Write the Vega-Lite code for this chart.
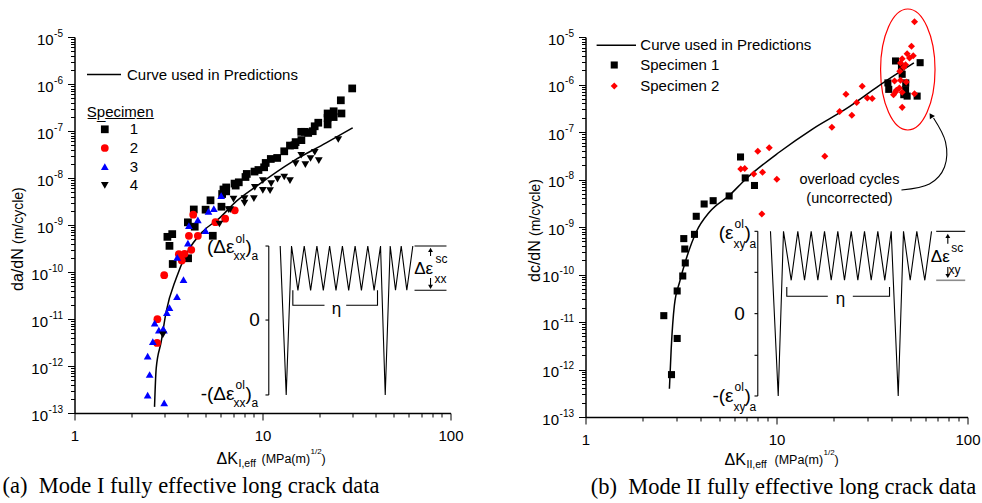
{
"$schema":"https://vega.github.io/schema/vega-lite/v6.json",
"background":"white",
"padding":{"left":2.5,"top":6,"right":0,"bottom":0},
"spacing":135,
"bounds":"flush",
"config":{
 "view":{"stroke":null},
 "axis":{"labelFont":"Liberation Sans","labelFontSize":15,"labelColor":"black","domainColor":"black","domainWidth":1.5,"tickColor":"black","tickWidth":1,"grid":false,"labelFlush":false,"labelOverlap":false},
 "legend":{"labelFont":"Liberation Sans","labelFontSize":15,"labelColor":"black","titleFont":"Liberation Sans","titleFontSize":15,"titleFontWeight":"normal","titleColor":"black","padding":0,"labelLimit":400},
 "text":{"font":"Liberation Sans","color":"black"}
},
"datasets":{
 "lPts":[
  {"s":"1","K":30.0,"r":8.05e-7},{"s":"1","K":26.1,"r":4.5e-7},{"s":"1","K":23.9,"r":2.63e-7},{"s":"1","K":22.2,"r":2.36e-7},{"s":"1","K":26.3,"r":2.36e-7},{"s":"1","K":23.9,"r":1.98e-7},{"s":"1","K":22.2,"r":1.9e-7},{"s":"1","K":22.2,"r":1.38e-7},{"s":"1","K":19.8,"r":1.5e-7},{"s":"1","K":18.95,"r":1.26e-7},{"s":"1","K":18.5,"r":9.9e-8},{"s":"1","K":17.5,"r":9.1e-8},{"s":"1","K":16.8,"r":9.6e-8},{"s":"1","K":16.07,"r":9.6e-8},{"s":"1","K":16.1,"r":6.4e-8},{"s":"1","K":15.0,"r":5.8e-8},{"s":"1","K":14.8,"r":4.98e-8},{"s":"1","K":14.0,"r":4.9e-8},{"s":"1","K":13.05,"r":3.7e-8},{"s":"1","K":11.97,"r":2.67e-8},{"s":"1","K":11.07,"r":2.54e-8},{"s":"1","K":10.4,"r":2.09e-8},{"s":"1","K":10.2,"r":1.69e-8},{"s":"1","K":9.52,"r":1.48e-8},{"s":"1","K":9.07,"r":1.37e-8},{"s":"1","K":8.25,"r":1.22e-8},{"s":"1","K":8.12,"r":1.05e-8},{"s":"1","K":7.48,"r":8.1e-9},{"s":"1","K":7.1,"r":7.6e-9},{"s":"1","K":7.2,"r":6.9e-9},{"s":"1","K":6.41,"r":6.3e-9},{"s":"1","K":6.2,"r":5.7e-9},{"s":"1","K":6.41,"r":5.2e-9},{"s":"1","K":6.1,"r":4.56e-9},{"s":"1","K":5.29,"r":3.35e-9},{"s":"1","K":6.05,"r":2.45e-9},{"s":"1","K":4.98,"r":2.12e-9},{"s":"1","K":4.31,"r":2.14e-9},{"s":"1","K":4.01,"r":1.14e-9},{"s":"1","K":4.36,"r":9.2e-10},{"s":"1","K":3.12,"r":5.6e-10},{"s":"1","K":3.31,"r":6.4e-10},{"s":"1","K":3.2,"r":3.6e-10},{"s":"1","K":5.44,"r":5.9e-10},{"s":"1","K":3.33,"r":1.48e-10},{"s":"1","K":4.02,"r":1.96e-10},
  {"s":"2","K":7.12,"r":2.05e-9},{"s":"2","K":6.33,"r":1.36e-9},{"s":"2","K":5.62,"r":1.15e-9},{"s":"2","K":4.28,"r":1.66e-9},{"s":"2","K":4.06,"r":5.9e-10},{"s":"2","K":4.53,"r":5.9e-10},{"s":"2","K":3.59,"r":2.4e-10},{"s":"2","K":3.85,"r":2.44e-10},{"s":"2","K":4.18,"r":2.97e-10},{"s":"2","K":3.72,"r":1.76e-10},{"s":"2","K":3.0,"r":8.55e-11},{"s":"2","K":2.76,"r":9.9e-12},{"s":"2","K":2.75,"r":3.1e-12},
  {"s":"3","K":6.03,"r":4.2e-9},{"s":"3","K":5.51,"r":2.23e-9},{"s":"3","K":5.16,"r":1.95e-9},{"s":"3","K":4.53,"r":1.29e-9},{"s":"3","K":4.06,"r":9.7e-10},{"s":"3","K":4.98,"r":7.6e-10},{"s":"3","K":4.01,"r":4.1e-10},{"s":"3","K":3.52,"r":2.04e-10},{"s":"3","K":3.8,"r":6.9e-11},{"s":"3","K":3.51,"r":3.0e-11},{"s":"3","K":3.2,"r":1.75e-11},{"s":"3","K":3.1,"r":1.37e-11},{"s":"3","K":2.67,"r":8.2e-12},{"s":"3","K":2.96,"r":6.15e-12},{"s":"3","K":2.81,"r":5.8e-12},{"s":"3","K":2.99,"r":5.8e-12},{"s":"3","K":2.61,"r":3.3e-12},{"s":"3","K":2.45,"r":1.62e-12},{"s":"3","K":2.51,"r":6.6e-13},{"s":"3","K":2.45,"r":2.4e-13},{"s":"3","K":3.0,"r":1.65e-13},
  {"s":"4","K":25.3,"r":6.6e-8},{"s":"4","K":19.93,"r":2.35e-8},{"s":"4","K":18.97,"r":3.53e-8},{"s":"4","K":18.0,"r":2.6e-8},{"s":"4","K":16.9,"r":1.93e-8},{"s":"4","K":16.07,"r":3.05e-8},{"s":"4","K":15.0,"r":2.03e-8},{"s":"4","K":14.0,"r":8.8e-9},{"s":"4","K":13.05,"r":1.05e-8},{"s":"4","K":12.02,"r":9.5e-9},{"s":"4","K":11.12,"r":7.6e-9},{"s":"4","K":10.97,"r":5.4e-9},{"s":"4","K":10.04,"r":5.47e-9},{"s":"4","K":10.04,"r":8.8e-9},{"s":"4","K":9.1,"r":6.3e-9},{"s":"4","K":9.0,"r":3.65e-9},{"s":"4","K":8.02,"r":2.93e-9},{"s":"4","K":8.02,"r":3.65e-9},{"s":"4","K":7.01,"r":3.57e-9},{"s":"4","K":6.6,"r":2.12e-9},{"s":"4","K":6.73,"r":2.12e-9},{"s":"4","K":5.9,"r":1.05e-9},{"s":"4","K":2.95,"r":4.6e-12}
 ],
 "lCurve":[
  {"series":"Curve used in Predictions","K":2.665,"r":1.35e-13},{"series":"Curve used in Predictions","K":2.72,"r":8.9e-13},{"series":"Curve used in Predictions","K":2.892,"r":3.3e-12},{"series":"Curve used in Predictions","K":3.074,"r":1.44e-11},{"series":"Curve used in Predictions","K":3.475,"r":7.4e-11},{"series":"Curve used in Predictions","K":4.006,"r":2.74e-10},{"series":"Curve used in Predictions","K":4.814,"r":7.3e-10},{"series":"Curve used in Predictions","K":5.905,"r":1.4e-9},{"series":"Curve used in Predictions","K":7.245,"r":3.18e-9},{"series":"Curve used in Predictions","K":9.26,"r":6.65e-9},{"series":"Curve used in Predictions","K":14.5,"r":2.27e-8},{"series":"Curve used in Predictions","K":21.8,"r":5.57e-8},{"series":"Curve used in Predictions","K":30.2,"r":1.17e-7}
 ],
 "lLines":[
  {"seg":"w","i":0,"K":12.42,"r":3.57e-10},{"seg":"w","i":1,"K":13.37,"r":2.42e-13},{"seg":"w","i":2,"K":14.27,"r":3.57e-10},{"seg":"w","i":3,"K":15.43,"r":4.08e-11},{"seg":"w","i":4,"K":16.67,"r":3.57e-10},{"seg":"w","i":5,"K":18.03,"r":4.08e-11},{"seg":"w","i":6,"K":19.47,"r":3.57e-10},{"seg":"w","i":7,"K":21.06,"r":4.08e-11},{"seg":"w","i":8,"K":22.75,"r":3.57e-10},{"seg":"w","i":9,"K":24.6,"r":4.08e-11},{"seg":"w","i":10,"K":26.61,"r":3.57e-10},{"seg":"w","i":11,"K":28.74,"r":4.08e-11},{"seg":"w","i":12,"K":31.09,"r":3.57e-10},{"seg":"w","i":13,"K":33.59,"r":4.08e-11},{"seg":"w","i":14,"K":36.32,"r":3.57e-10},{"seg":"w","i":15,"K":39.23,"r":4.08e-11},{"seg":"w","i":16,"K":42.44,"r":3.57e-10},{"seg":"w","i":17,"K":44.96,"r":2.42e-13},{"seg":"w","i":18,"K":47.79,"r":3.57e-10},{"seg":"w","i":19,"K":50.99,"r":4.08e-11},{"seg":"w","i":20,"K":54.68,"r":3.57e-10},{"seg":"w","i":21,"K":58.56,"r":4.08e-11},{"seg":"w","i":22,"K":63.03,"r":3.57e-10},
  {"seg":"ax","i":0,"K":10.8,"r":3.57e-10},{"seg":"ax","i":1,"K":10.8,"r":2.42e-13},
  {"seg":"t1","i":0,"K":10.37,"r":3.57e-10},{"seg":"t1","i":1,"K":10.8,"r":3.57e-10},
  {"seg":"t2","i":0,"K":10.37,"r":9.5e-12},{"seg":"t2","i":1,"K":10.8,"r":9.5e-12},
  {"seg":"t3","i":0,"K":10.37,"r":2.42e-13},{"seg":"t3","i":1,"K":10.8,"r":2.42e-13},
  {"seg":"b1","i":0,"K":14.5,"r":4.08e-11},{"seg":"b1","i":1,"K":14.5,"r":1.955e-11},{"seg":"b1","i":2,"K":21.37,"r":1.955e-11},
  {"seg":"b2","i":0,"K":27.87,"r":1.955e-11},{"seg":"b2","i":1,"K":40.9,"r":1.955e-11},{"seg":"b2","i":2,"K":40.9,"r":4.08e-11},
  {"seg":"r1","i":0,"K":64.36,"r":3.57e-10},{"seg":"r1","i":1,"K":95.2,"r":3.57e-10},
  {"seg":"r2","i":0,"K":64.36,"r":4.08e-11},{"seg":"r2","i":1,"K":95.2,"r":4.08e-11},
  {"seg":"a1","i":0,"K":78.3,"r":2.19e-10},{"seg":"a1","i":1,"K":78.3,"r":2.94e-10},
  {"seg":"a2","i":0,"K":78.3,"r":7.45e-11},{"seg":"a2","i":1,"K":78.3,"r":4.8e-11}
 ],
 "lHeads":[{"dir":"up","K":78.3,"r":2.94e-10},{"dir":"down","K":78.3,"r":4.8e-11}],
 "lTxt":[
  {"t":"(Δε","K":7.098,"r":3.4e-10,"role":"big"},{"t":"-(Δε","K":7.098,"r":2.54e-13,"role":"big"},
  {"t":")","K":8.12,"r":3.4e-10,"role":"bigL"},{"t":")","K":8.12,"r":2.54e-13,"role":"bigL"},
  {"t":"0","K":9.07,"r":9.5e-12,"role":"zero"},
  {"t":"ol","K":7.185,"r":5.16e-10,"role":"sm"},{"t":"xx","K":7.012,"r":2.19e-10,"role":"sm"},{"t":"a","K":8.74,"r":2.19e-10,"role":"sm"},
  {"t":"ol","K":7.185,"r":3.85e-13,"role":"sm"},{"t":"xx","K":7.012,"r":1.63e-13,"role":"sm"},{"t":"a","K":8.74,"r":1.63e-13,"role":"sm"},
  {"t":"sc","K":83.2,"r":1.92e-10,"role":"sm"},{"t":"xx","K":82.2,"r":7.1e-11,"role":"sm"},
  {"t":"η","K":24.75,"r":1.63e-11,"role":"eta"},
  {"t":"Δε","K":72.0,"r":1.14e-10,"role":"de"},
  {"t":"ΔK","K":5.69,"r":1.05e-14,"role":"xt1"},
  {"t":"I,eff","K":7.455,"r":8.22e-15,"role":"xt2"},
  {"t":"(MPa(m)","K":9.878,"r":1.05e-14,"role":"xt3"},{"t":")","K":20.6,"r":1.05e-14,"role":"xt3"},
  {"t":"1/2","K":18.0,"r":1.48e-14,"role":"xt4"},
  {"t":"da/dN","K":0.532,"r":3.94e-11,"role":"yt1"},
  {"t":"(m/cycle)","K":0.532,"r":3.94e-10,"role":"yt2"},
  {"t":"(a)\u2002Mode I fully effective long crack data","K":4.166,"r":2.8e-15,"role":"cap"}
 ],
 "rPts":[
  {"s":"Specimen 1","K":6.48,"r":2.98e-8},{"s":"Specimen 1","K":6.86,"r":1.08e-8},{"s":"Specimen 1","K":7.67,"r":7.48e-9},{"s":"Specimen 1","K":5.65,"r":4.5e-9},{"s":"Specimen 1","K":4.66,"r":3.58e-9},{"s":"Specimen 1","K":4.18,"r":3.05e-9},{"s":"Specimen 1","K":3.8,"r":1.68e-9},{"s":"Specimen 1","K":3.72,"r":7.0e-10},{"s":"Specimen 1","K":3.27,"r":5.7e-10},{"s":"Specimen 1","K":3.31,"r":3.44e-10},{"s":"Specimen 1","K":3.33,"r":1.75e-10},{"s":"Specimen 1","K":3.23,"r":9.3e-11},{"s":"Specimen 1","K":3.02,"r":4.5e-11},{"s":"Specimen 1","K":2.57,"r":1.36e-11},{"s":"Specimen 1","K":3.02,"r":4.5e-12},{"s":"Specimen 1","K":2.82,"r":7.8e-13},
  {"s":"Specimen 1","K":56.5,"r":2.88e-6},{"s":"Specimen 1","K":42.0,"r":3.13e-6},{"s":"Specimen 1","K":45.1,"r":2.34e-6},{"s":"Specimen 1","K":45.5,"r":1.64e-6},{"s":"Specimen 1","K":38.3,"r":1.08e-6},{"s":"Specimen 1","K":38.7,"r":7.9e-7},{"s":"Specimen 1","K":47.5,"r":1.08e-6},{"s":"Specimen 1","K":47.4,"r":7.8e-7},{"s":"Specimen 1","K":46.4,"r":6.1e-7},{"s":"Specimen 1","K":48.3,"r":5.7e-7},{"s":"Specimen 1","K":54.5,"r":5.7e-7},
  {"s":"Specimen 2","K":7.98,"r":3.92e-8},{"s":"Specimen 2","K":9.16,"r":4.67e-8},{"s":"Specimen 2","K":6.5,"r":1.66e-8},{"s":"Specimen 2","K":6.82,"r":1.71e-8},{"s":"Specimen 2","K":7.6,"r":1.3e-8},{"s":"Specimen 2","K":8.45,"r":1.42e-8},{"s":"Specimen 2","K":10.04,"r":1.01e-8},{"s":"Specimen 2","K":8.38,"r":1.88e-9},{"s":"Specimen 2","K":17.9,"r":3.08e-8},{"s":"Specimen 2","K":19.5,"r":1.26e-7},{"s":"Specimen 2","K":21.4,"r":2.7e-7},{"s":"Specimen 2","K":24.8,"r":2.25e-7},{"s":"Specimen 2","K":26.3,"r":4.18e-7},{"s":"Specimen 2","K":23.1,"r":6.25e-7},{"s":"Specimen 2","K":28.1,"r":9.2e-7},{"s":"Specimen 2","K":29.9,"r":5.2e-7},{"s":"Specimen 2","K":31.7,"r":5.07e-7},
  {"s":"Specimen 2","K":52.8,"r":2.1e-5},{"s":"Specimen 2","K":50.9,"r":6.4e-6},{"s":"Specimen 2","K":48.3,"r":4.45e-6},{"s":"Specimen 2","K":52.0,"r":4.04e-6},{"s":"Specimen 2","K":49.7,"r":3.61e-6},{"s":"Specimen 2","K":45.5,"r":3.49e-6},{"s":"Specimen 2","K":44.6,"r":2.84e-6},{"s":"Specimen 2","K":47.4,"r":2.61e-6},{"s":"Specimen 2","K":46.4,"r":2.3e-6},{"s":"Specimen 2","K":44.2,"r":1.9e-6},{"s":"Specimen 2","K":41.5,"r":1.19e-6},{"s":"Specimen 2","K":44.6,"r":1.23e-6},{"s":"Specimen 2","K":47.8,"r":1.13e-6},{"s":"Specimen 2","K":42.4,"r":7.55e-7},{"s":"Specimen 2","K":44.0,"r":8.44e-7},{"s":"Specimen 2","K":45.5,"r":6.85e-7},{"s":"Specimen 2","K":41.0,"r":6.1e-7},{"s":"Specimen 2","K":42.0,"r":6.95e-7},{"s":"Specimen 2","K":52.8,"r":6.4e-7},{"s":"Specimen 2","K":45.5,"r":3.3e-7}
 ],
 "rCurve":[
  {"series":"Curve used in Predictions","K":2.75,"r":3.94e-13},{"series":"Curve used in Predictions","K":2.81,"r":2.74e-12},{"series":"Curve used in Predictions","K":2.92,"r":2.25e-11},{"series":"Curve used in Predictions","K":3.11,"r":6.95e-11},{"series":"Curve used in Predictions","K":3.37,"r":2.15e-10},{"series":"Curve used in Predictions","K":3.8,"r":7.85e-10},{"series":"Curve used in Predictions","K":4.46,"r":2.07e-9},{"series":"Curve used in Predictions","K":5.67,"r":4.65e-9},{"series":"Curve used in Predictions","K":6.94,"r":1.04e-8},{"series":"Curve used in Predictions","K":10.37,"r":3.79e-8},{"series":"Curve used in Predictions","K":15.5,"r":1.17e-7},{"series":"Curve used in Predictions","K":23.2,"r":3.1e-7},{"series":"Curve used in Predictions","K":34.6,"r":9.6e-7},{"series":"Curve used in Predictions","K":52.4,"r":2.84e-6}
 ],
 "rLines":[
  {"seg":"w","i":0,"K":9.3,"r":8.11e-10},{"seg":"w","i":1,"K":10.21,"r":2.77e-13},{"seg":"w","i":2,"K":10.88,"r":8.11e-10},{"seg":"w","i":3,"K":11.94,"r":7.55e-11},{"seg":"w","i":4,"K":12.93,"r":8.11e-10},{"seg":"w","i":5,"K":14.02,"r":7.55e-11},{"seg":"w","i":6,"K":15.19,"r":8.11e-10},{"seg":"w","i":7,"K":16.46,"r":7.55e-11},{"seg":"w","i":8,"K":17.84,"r":8.11e-10},{"seg":"w","i":9,"K":19.34,"r":7.55e-11},{"seg":"w","i":10,"K":20.94,"r":8.11e-10},{"seg":"w","i":11,"K":22.7,"r":7.55e-11},{"seg":"w","i":12,"K":24.61,"r":8.11e-10},{"seg":"w","i":13,"K":26.66,"r":7.55e-11},{"seg":"w","i":14,"K":28.89,"r":8.11e-10},{"seg":"w","i":15,"K":31.32,"r":7.55e-11},{"seg":"w","i":16,"K":33.92,"r":8.11e-10},{"seg":"w","i":17,"K":36.9,"r":7.55e-11},{"seg":"w","i":18,"K":39.86,"r":8.11e-10},{"seg":"w","i":19,"K":43.38,"r":2.77e-13},{"seg":"w","i":20,"K":46.23,"r":8.11e-10},{"seg":"w","i":21,"K":50.12,"r":7.55e-11},{"seg":"w","i":22,"K":54.28,"r":8.11e-10},{"seg":"w","i":23,"K":59.77,"r":7.55e-11},{"seg":"w","i":24,"K":64.8,"r":8.11e-10},
  {"seg":"ax","i":0,"K":7.98,"r":8.11e-10},{"seg":"ax","i":1,"K":7.98,"r":2.77e-13},
  {"seg":"t1","i":0,"K":7.67,"r":8.11e-10},{"seg":"t1","i":1,"K":7.98,"r":8.11e-10},
  {"seg":"t2","i":0,"K":7.67,"r":1.11e-10},{"seg":"t2","i":1,"K":7.98,"r":1.11e-10},
  {"seg":"t3","i":0,"K":7.67,"r":1.5e-11},{"seg":"t3","i":1,"K":7.98,"r":1.5e-11},
  {"seg":"t4","i":0,"K":7.67,"r":1.99e-12},{"seg":"t4","i":1,"K":7.98,"r":1.99e-12},
  {"seg":"t5","i":0,"K":7.67,"r":2.77e-13},{"seg":"t5","i":1,"K":7.98,"r":2.77e-13},
  {"seg":"b1","i":0,"K":11.32,"r":5.46e-11},{"seg":"b1","i":1,"K":11.32,"r":3.48e-11},{"seg":"b1","i":2,"K":18.56,"r":3.48e-11},
  {"seg":"b2","i":0,"K":25.09,"r":3.48e-11},{"seg":"b2","i":1,"K":39.06,"r":3.48e-11},{"seg":"b2","i":2,"K":39.06,"r":5.46e-11},
  {"seg":"r1","i":0,"K":68.56,"r":8.11e-10},{"seg":"r1","i":1,"K":97.27,"r":8.11e-10},
  {"seg":"r2","i":0,"K":68.56,"r":7.55e-11},{"seg":"r2","i":1,"K":97.27,"r":7.55e-11},
  {"seg":"a1","i":0,"K":78.87,"r":4.45e-10},{"seg":"a1","i":1,"K":78.87,"r":6.47e-10},
  {"seg":"a2","i":0,"K":78.87,"r":1.44e-10},{"seg":"a2","i":1,"K":78.87,"r":9.3e-11}
 ],
 "rArc":[{"i":0,"K":45.1,"r":6.0e-9},{"i":1,"K":63.2,"r":8.04e-9},{"i":2,"K":75.8,"r":1.83e-8},{"i":3,"K":76.7,"r":6.16e-8},{"i":4,"K":66.4,"r":1.97e-7}],
 "rHeads":[{"dir":"up","K":78.87,"r":6.47e-10},{"dir":"down","K":78.87,"r":9.3e-11},{"dir":"arc","K":64.4,"r":2.22e-7}],
 "rEll":[{"K":48.69,"r":2.07e-6}],
 "rTxt":[
  {"t":"(ε","K":5.955,"r":7.48e-10,"role":"big"},{"t":"-(ε","K":5.955,"r":2.77e-13,"role":"big"},
  {"t":")","K":6.8,"r":7.48e-10,"role":"bigL"},{"t":")","K":6.8,"r":2.77e-13,"role":"bigL"},
  {"t":"0","K":6.401,"r":1.5e-11,"role":"zero"},
  {"t":"ol","K":6.027,"r":1.16e-9,"role":"sm"},{"t":"xy","K":5.955,"r":4.39e-10,"role":"sm"},{"t":"a","K":7.222,"r":4.39e-10,"role":"sm"},
  {"t":"ol","K":6.027,"r":4.28e-13,"role":"sm"},{"t":"xy","K":5.955,"r":1.63e-13,"role":"sm"},{"t":"a","K":7.222,"r":1.63e-13,"role":"sm"},
  {"t":"sc","K":82.15,"r":3.61e-10,"role":"sm"},{"t":"xy","K":79.5,"r":1.24e-10,"role":"sm"},
  {"t":"η","K":21.63,"r":3.05e-11,"role":"eta"},
  {"t":"Δε","K":72.0,"r":2.33e-10,"role":"de"},
  {"t":"overload cycles","K":24.1,"r":9.8e-9,"role":"ann"},{"t":"(uncorrected)","K":24.1,"r":3.9e-9,"role":"ann"},
  {"t":"ΔK","K":5.343,"r":1.24e-14,"role":"xt1"},
  {"t":"II,eff","K":6.966,"r":9.76e-15,"role":"xt2"},
  {"t":"(MPa(m)","K":9.761,"r":1.24e-14,"role":"xt3"},{"t":")","K":20.12,"r":1.24e-14,"role":"xt3"},
  {"t":"1/2","K":17.62,"r":1.75e-14,"role":"xt4"},
  {"t":"dc/dN","K":0.578,"r":6.95e-11,"role":"yt1"},
  {"t":"(m/cycle)","K":0.578,"r":6.47e-10,"role":"yt2"},
  {"t":"(b)\u2002Mode II fully effective long crack data","K":10.88,"r":3.36e-15,"role":"cap"}
 ]
},
"resolve":{"scale":{"color":"independent","shape":"independent","stroke":"independent"}},
"hconcat":[
 {
  "width":376,"height":376,
  "encoding":{
   "x":{"field":"K","type":"quantitative","scale":{"type":"log","domain":[1,100],"nice":false},
    "axis":{"title":null,"values":[1,2,3,4,5,6,7,8,9,10,20,30,40,50,60,70,80,90,100],
     "labelExpr":"datum.value == 1 ? '1' : datum.value == 10 ? '10' : datum.value == 100 ? '100' : ''",
     "tickSize":{"condition":{"test":"datum.value == 1 || datum.value == 10 || datum.value == 100","value":7},"value":4},
     "labelPadding":8}},
   "y":{"field":"r","type":"quantitative","scale":{"type":"log","domain":[1e-13,1e-5],"nice":false},
    "axis":{"orient":"left","title":null,"values":[1e-13,2e-13,3e-13,4e-13,5e-13,6e-13,7e-13,8e-13,9e-13,1e-12,2e-12,3e-12,4e-12,5e-12,6e-12,7e-12,8e-12,9e-12,1e-11,2e-11,3e-11,4e-11,5e-11,6e-11,7e-11,8e-11,9e-11,1e-10,2e-10,3e-10,4e-10,5e-10,6e-10,7e-10,8e-10,9e-10,1e-9,2e-9,3e-9,4e-9,5e-9,6e-9,7e-9,8e-9,9e-9,1e-8,2e-8,3e-8,4e-8,5e-8,6e-8,7e-8,8e-8,9e-8,1e-7,2e-7,3e-7,4e-7,5e-7,6e-7,7e-7,8e-7,9e-7,1e-6,2e-6,3e-6,4e-6,5e-6,6e-6,7e-6,8e-6,9e-6,1e-5],
     "labelExpr":"abs(log(datum.value)/LN10 - round(log(datum.value)/LN10)) < 1e-6 ? '10' : ''",
     "tickSize":{"condition":{"test":"abs(log(datum.value)/LN10 - round(log(datum.value)/LN10)) < 1e-6","value":7},"value":4},
     "labelPadding":{"condition":{"test":"datum.value < 5e-10","value":20},"value":14.4},
     "labelOffset":2}}
  },
  "resolve":{"axis":{"y":"independent"}},
  "layer":[
   {"layer":[
   {"data":{"name":"lLines"},"mark":{"type":"line","color":"black","strokeWidth":1.1},"encoding":{"detail":{"field":"seg","type":"nominal"},"order":{"field":"i","type":"quantitative"}}},
   {"data":{"name":"lCurve"},"mark":{"type":"line","interpolate":"monotone","strokeWidth":1.5},
    "encoding":{"stroke":{"field":"series","type":"nominal","scale":{"range":["black"]},
     "legend":{"orient":"none","legendX":11.5,"legendY":19.5,"title":null,"symbolType":"stroke","symbolSize":1156,"symbolStrokeWidth":1.5,"labelOffset":5}}}},
   {"data":{"name":"lPts"},"mark":{"type":"point","filled":true,"size":60,"opacity":1,"strokeWidth":0},
    "encoding":{
     "color":{"field":"s","type":"nominal","scale":{"domain":["1","2","3","4"],"range":["#000000","#ff0000","#0000ff","#000000"]},
      "legend":{"orient":"none","legendX":12.3,"legendY":68.2,"title":"S\u0332p\u0332e\u0332c\u0332i\u0332m\u0332e\u0332n\u0332","titlePadding":1.6,"titleAnchor":"start","labelOffset":17.5,"symbolOffset":10.5,"rowPadding":2.7,"symbolSize":60,"symbolStrokeWidth":0}},
     "shape":{"field":"s","type":"nominal","scale":{"domain":["1","2","3","4"],"range":["square","circle","triangle-up","triangle-down"]},
      "legend":{"orient":"none","legendX":12.3,"legendY":68.2,"title":"S\u0332p\u0332e\u0332c\u0332i\u0332m\u0332e\u0332n\u0332","titlePadding":1.6,"titleAnchor":"start","labelOffset":17.5,"symbolOffset":10.5,"rowPadding":2.7,"symbolSize":60,"symbolStrokeWidth":0}}}},
   {"data":{"name":"lHeads"},"transform":[{"filter":"datum.dir==='down'"}],"mark":{"type":"point","shape":"triangle-down","filled":true,"size":24,"color":"black","opacity":1}},
   {"data":{"name":"lTxt"},"transform":[{"filter":"datum.role==='big'"}],"mark":{"type":"text","align":"right","baseline":"middle","fontSize":19},"encoding":{"text":{"field":"t","type":"nominal"}}},
   {"data":{"name":"lTxt"},"transform":[{"filter":"datum.role==='bigL'"}],"mark":{"type":"text","align":"left","baseline":"middle","fontSize":19},"encoding":{"text":{"field":"t","type":"nominal"}}},
   {"data":{"name":"lTxt"},"transform":[{"filter":"datum.role==='zero'"}],"mark":{"type":"text","align":"center","baseline":"middle","fontSize":19},"encoding":{"text":{"field":"t","type":"nominal"}}},
   {"data":{"name":"lTxt"},"transform":[{"filter":"datum.role==='sm'"}],"mark":{"type":"text","align":"left","baseline":"middle","fontSize":12},"encoding":{"text":{"field":"t","type":"nominal"}}},
   {"data":{"name":"lTxt"},"transform":[{"filter":"datum.role==='eta'"}],"mark":{"type":"text","align":"center","baseline":"middle","fontSize":17},"encoding":{"text":{"field":"t","type":"nominal"}}},
   {"data":{"name":"lTxt"},"transform":[{"filter":"datum.role==='de'"}],"mark":{"type":"text","align":"center","baseline":"middle","fontSize":17},"encoding":{"text":{"field":"t","type":"nominal"}}},
   {"data":{"name":"lTxt"},"transform":[{"filter":"datum.role==='xt1'"}],"mark":{"type":"text","align":"left","baseline":"middle","fontSize":16},"encoding":{"text":{"field":"t","type":"nominal"}}},
   {"data":{"name":"lTxt"},"transform":[{"filter":"datum.role==='xt2'"}],"mark":{"type":"text","align":"left","baseline":"middle","fontSize":10.5},"encoding":{"text":{"field":"t","type":"nominal"}}},
   {"data":{"name":"lTxt"},"transform":[{"filter":"datum.role==='xt3'"}],"mark":{"type":"text","align":"left","baseline":"middle","fontSize":12.5},"encoding":{"text":{"field":"t","type":"nominal"}}},
   {"data":{"name":"lTxt"},"transform":[{"filter":"datum.role==='xt4'"}],"mark":{"type":"text","align":"left","baseline":"middle","fontSize":8},"encoding":{"text":{"field":"t","type":"nominal"}}},
   {"data":{"name":"lTxt"},"transform":[{"filter":"datum.role==='yt1'"}],"mark":{"type":"text","align":"left","baseline":"alphabetic","angle":270,"fontSize":16},"encoding":{"text":{"field":"t","type":"nominal"}}},
   {"data":{"name":"lTxt"},"transform":[{"filter":"datum.role==='yt2'"}],"mark":{"type":"text","align":"left","baseline":"alphabetic","angle":270,"fontSize":14},"encoding":{"text":{"field":"t","type":"nominal"}}},
   {"data":{"name":"lTxt"},"transform":[{"filter":"datum.role==='cap'"}],"mark":{"type":"text","align":"center","baseline":"middle","fontSize":22.5,"font":"Liberation Serif"},"encoding":{"text":{"field":"t","type":"nominal"}}}
   ]},
   {"data":{"name":"lHeads"},"transform":[{"filter":"datum.dir==='up'"}],"mark":{"type":"point","shape":"triangle-up","filled":true,"size":24,"color":"black","opacity":1},
    "encoding":{"y":{"field":"r","type":"quantitative","scale":{"type":"log","domain":[1e-13,1e-5],"nice":false},
     "axis":{"orient":"left","title":null,"domain":false,"tickOpacity":0,"tickSize":7,"values":[1e-13,1e-12,1e-11,1e-10,1e-9,1e-8,1e-7,1e-6,1e-5],
      "labelExpr":"'-' + (-round(log(datum.value)/LN10))","labelFontSize":10,"labelPadding":5,"labelOffset":-4}}}}
  ]
 },
 {
  "width":382,"height":380,
  "encoding":{
   "x":{"field":"K","type":"quantitative","scale":{"type":"log","domain":[1,100],"nice":false},
    "axis":{"title":null,"values":[1,2,3,4,5,6,7,8,9,10,20,30,40,50,60,70,80,90,100],
     "labelExpr":"datum.value == 1 ? '1' : datum.value == 10 ? '10' : datum.value == 100 ? '100' : ''",
     "tickSize":{"condition":{"test":"datum.value == 1 || datum.value == 10 || datum.value == 100","value":7},"value":4},
     "labelPadding":8}},
   "y":{"field":"r","type":"quantitative","scale":{"type":"log","domain":[1e-13,1e-5],"nice":false},
    "axis":{"orient":"left","title":null,"values":[1e-13,2e-13,3e-13,4e-13,5e-13,6e-13,7e-13,8e-13,9e-13,1e-12,2e-12,3e-12,4e-12,5e-12,6e-12,7e-12,8e-12,9e-12,1e-11,2e-11,3e-11,4e-11,5e-11,6e-11,7e-11,8e-11,9e-11,1e-10,2e-10,3e-10,4e-10,5e-10,6e-10,7e-10,8e-10,9e-10,1e-9,2e-9,3e-9,4e-9,5e-9,6e-9,7e-9,8e-9,9e-9,1e-8,2e-8,3e-8,4e-8,5e-8,6e-8,7e-8,8e-8,9e-8,1e-7,2e-7,3e-7,4e-7,5e-7,6e-7,7e-7,8e-7,9e-7,1e-6,2e-6,3e-6,4e-6,5e-6,6e-6,7e-6,8e-6,9e-6,1e-5],
     "labelExpr":"abs(log(datum.value)/LN10 - round(log(datum.value)/LN10)) < 1e-6 ? '10' : ''",
     "tickSize":{"condition":{"test":"abs(log(datum.value)/LN10 - round(log(datum.value)/LN10)) < 1e-6","value":7},"value":4},
     "labelPadding":{"condition":{"test":"datum.value < 5e-10","value":20},"value":14.4},
     "labelOffset":2}}
  },
  "resolve":{"axis":{"y":"independent"}},
  "layer":[
   {"layer":[
   {"data":{"name":"rLines"},"transform":[{"filter":"datum.seg !== 'r2'"}],"mark":{"type":"line","color":"black","strokeWidth":1.1},"encoding":{"detail":{"field":"seg","type":"nominal"},"order":{"field":"i","type":"quantitative"}}},
   {"data":{"name":"rLines"},"transform":[{"filter":"datum.seg === 'r2'"}],"mark":{"type":"line","color":"#8c8c8c","strokeWidth":1.6},"encoding":{"detail":{"field":"seg","type":"nominal"},"order":{"field":"i","type":"quantitative"}}},
   {"data":{"name":"rArc"},"mark":{"type":"line","interpolate":"cardinal","color":"black","strokeWidth":1.1},"encoding":{"order":{"field":"i","type":"quantitative"}}},
   {"data":{"name":"rEll"},"mark":{"type":"point","shape":"M0,-1C0.2485,-1,0.45,-0.5523,0.45,0C0.45,0.5523,0.2485,1,0,1C-0.2485,1,-0.45,0.5523,-0.45,0C-0.45,-0.5523,-0.2485,-1,0,-1Z","filled":false,"size":14641,"color":"#ff0000","strokeWidth":1.2,"opacity":1}},
   {"data":{"name":"rCurve"},"mark":{"type":"line","interpolate":"monotone","strokeWidth":1.5},
    "encoding":{"stroke":{"field":"series","type":"nominal","scale":{"range":["black"]},
     "legend":{"orient":"none","legendX":10.3,"legendY":-12.2,"title":null,"symbolType":"stroke","symbolSize":1552,"symbolStrokeWidth":1.5,"labelOffset":3.5}}}},
   {"data":{"name":"rPts"},"mark":{"type":"point","filled":true,"size":50,"opacity":1,"strokeWidth":0},
    "encoding":{
     "color":{"field":"s","type":"nominal","scale":{"domain":["Specimen 1","Specimen 2"],"range":["#000000","#ff0000"]},
      "legend":{"orient":"none","legendX":21.25,"legendY":20.5,"title":null,"labelOffset":18.5,"rowPadding":5,"symbolSize":50,"symbolStrokeWidth":0}},
     "shape":{"field":"s","type":"nominal","scale":{"domain":["Specimen 1","Specimen 2"],"range":["square","diamond"]},
      "legend":{"orient":"none","legendX":21.25,"legendY":20.5,"title":null,"labelOffset":18.5,"rowPadding":5,"symbolSize":50,"symbolStrokeWidth":0}}}},
   {"data":{"name":"rHeads"},"transform":[{"filter":"datum.dir==='down'"}],"mark":{"type":"point","shape":"triangle-down","filled":true,"size":24,"color":"black","opacity":1}},
   {"data":{"name":"rHeads"},"transform":[{"filter":"datum.dir==='arc'"}],"mark":{"type":"point","shape":"triangle-up","angle":-33,"filled":true,"size":36,"color":"black","opacity":1}},
   {"data":{"name":"rTxt"},"transform":[{"filter":"datum.role==='big'"}],"mark":{"type":"text","align":"right","baseline":"middle","fontSize":19},"encoding":{"text":{"field":"t","type":"nominal"}}},
   {"data":{"name":"rTxt"},"transform":[{"filter":"datum.role==='bigL'"}],"mark":{"type":"text","align":"left","baseline":"middle","fontSize":19},"encoding":{"text":{"field":"t","type":"nominal"}}},
   {"data":{"name":"rTxt"},"transform":[{"filter":"datum.role==='zero'"}],"mark":{"type":"text","align":"center","baseline":"middle","fontSize":19},"encoding":{"text":{"field":"t","type":"nominal"}}},
   {"data":{"name":"rTxt"},"transform":[{"filter":"datum.role==='sm'"}],"mark":{"type":"text","align":"left","baseline":"middle","fontSize":12},"encoding":{"text":{"field":"t","type":"nominal"}}},
   {"data":{"name":"rTxt"},"transform":[{"filter":"datum.role==='eta'"}],"mark":{"type":"text","align":"center","baseline":"middle","fontSize":17},"encoding":{"text":{"field":"t","type":"nominal"}}},
   {"data":{"name":"rTxt"},"transform":[{"filter":"datum.role==='de'"}],"mark":{"type":"text","align":"center","baseline":"middle","fontSize":17},"encoding":{"text":{"field":"t","type":"nominal"}}},
   {"data":{"name":"rTxt"},"transform":[{"filter":"datum.role==='ann'"}],"mark":{"type":"text","align":"center","baseline":"middle","fontSize":14.5},"encoding":{"text":{"field":"t","type":"nominal"}}},
   {"data":{"name":"rTxt"},"transform":[{"filter":"datum.role==='xt1'"}],"mark":{"type":"text","align":"left","baseline":"middle","fontSize":16},"encoding":{"text":{"field":"t","type":"nominal"}}},
   {"data":{"name":"rTxt"},"transform":[{"filter":"datum.role==='xt2'"}],"mark":{"type":"text","align":"left","baseline":"middle","fontSize":10.5},"encoding":{"text":{"field":"t","type":"nominal"}}},
   {"data":{"name":"rTxt"},"transform":[{"filter":"datum.role==='xt3'"}],"mark":{"type":"text","align":"left","baseline":"middle","fontSize":12.5},"encoding":{"text":{"field":"t","type":"nominal"}}},
   {"data":{"name":"rTxt"},"transform":[{"filter":"datum.role==='xt4'"}],"mark":{"type":"text","align":"left","baseline":"middle","fontSize":8},"encoding":{"text":{"field":"t","type":"nominal"}}},
   {"data":{"name":"rTxt"},"transform":[{"filter":"datum.role==='yt1'"}],"mark":{"type":"text","align":"left","baseline":"alphabetic","angle":270,"fontSize":16},"encoding":{"text":{"field":"t","type":"nominal"}}},
   {"data":{"name":"rTxt"},"transform":[{"filter":"datum.role==='yt2'"}],"mark":{"type":"text","align":"left","baseline":"alphabetic","angle":270,"fontSize":14},"encoding":{"text":{"field":"t","type":"nominal"}}},
   {"data":{"name":"rTxt"},"transform":[{"filter":"datum.role==='cap'"}],"mark":{"type":"text","align":"center","baseline":"middle","fontSize":22.5,"font":"Liberation Serif"},"encoding":{"text":{"field":"t","type":"nominal"}}}
   ]},
   {"data":{"name":"rHeads"},"transform":[{"filter":"datum.dir==='up'"}],"mark":{"type":"point","shape":"triangle-up","filled":true,"size":24,"color":"black","opacity":1},
    "encoding":{"y":{"field":"r","type":"quantitative","scale":{"type":"log","domain":[1e-13,1e-5],"nice":false},
     "axis":{"orient":"left","title":null,"domain":false,"tickOpacity":0,"tickSize":7,"values":[1e-13,1e-12,1e-11,1e-10,1e-9,1e-8,1e-7,1e-6,1e-5],
      "labelExpr":"'-' + (-round(log(datum.value)/LN10))","labelFontSize":10,"labelPadding":5,"labelOffset":-4}}}}
  ]
 }
]
}
